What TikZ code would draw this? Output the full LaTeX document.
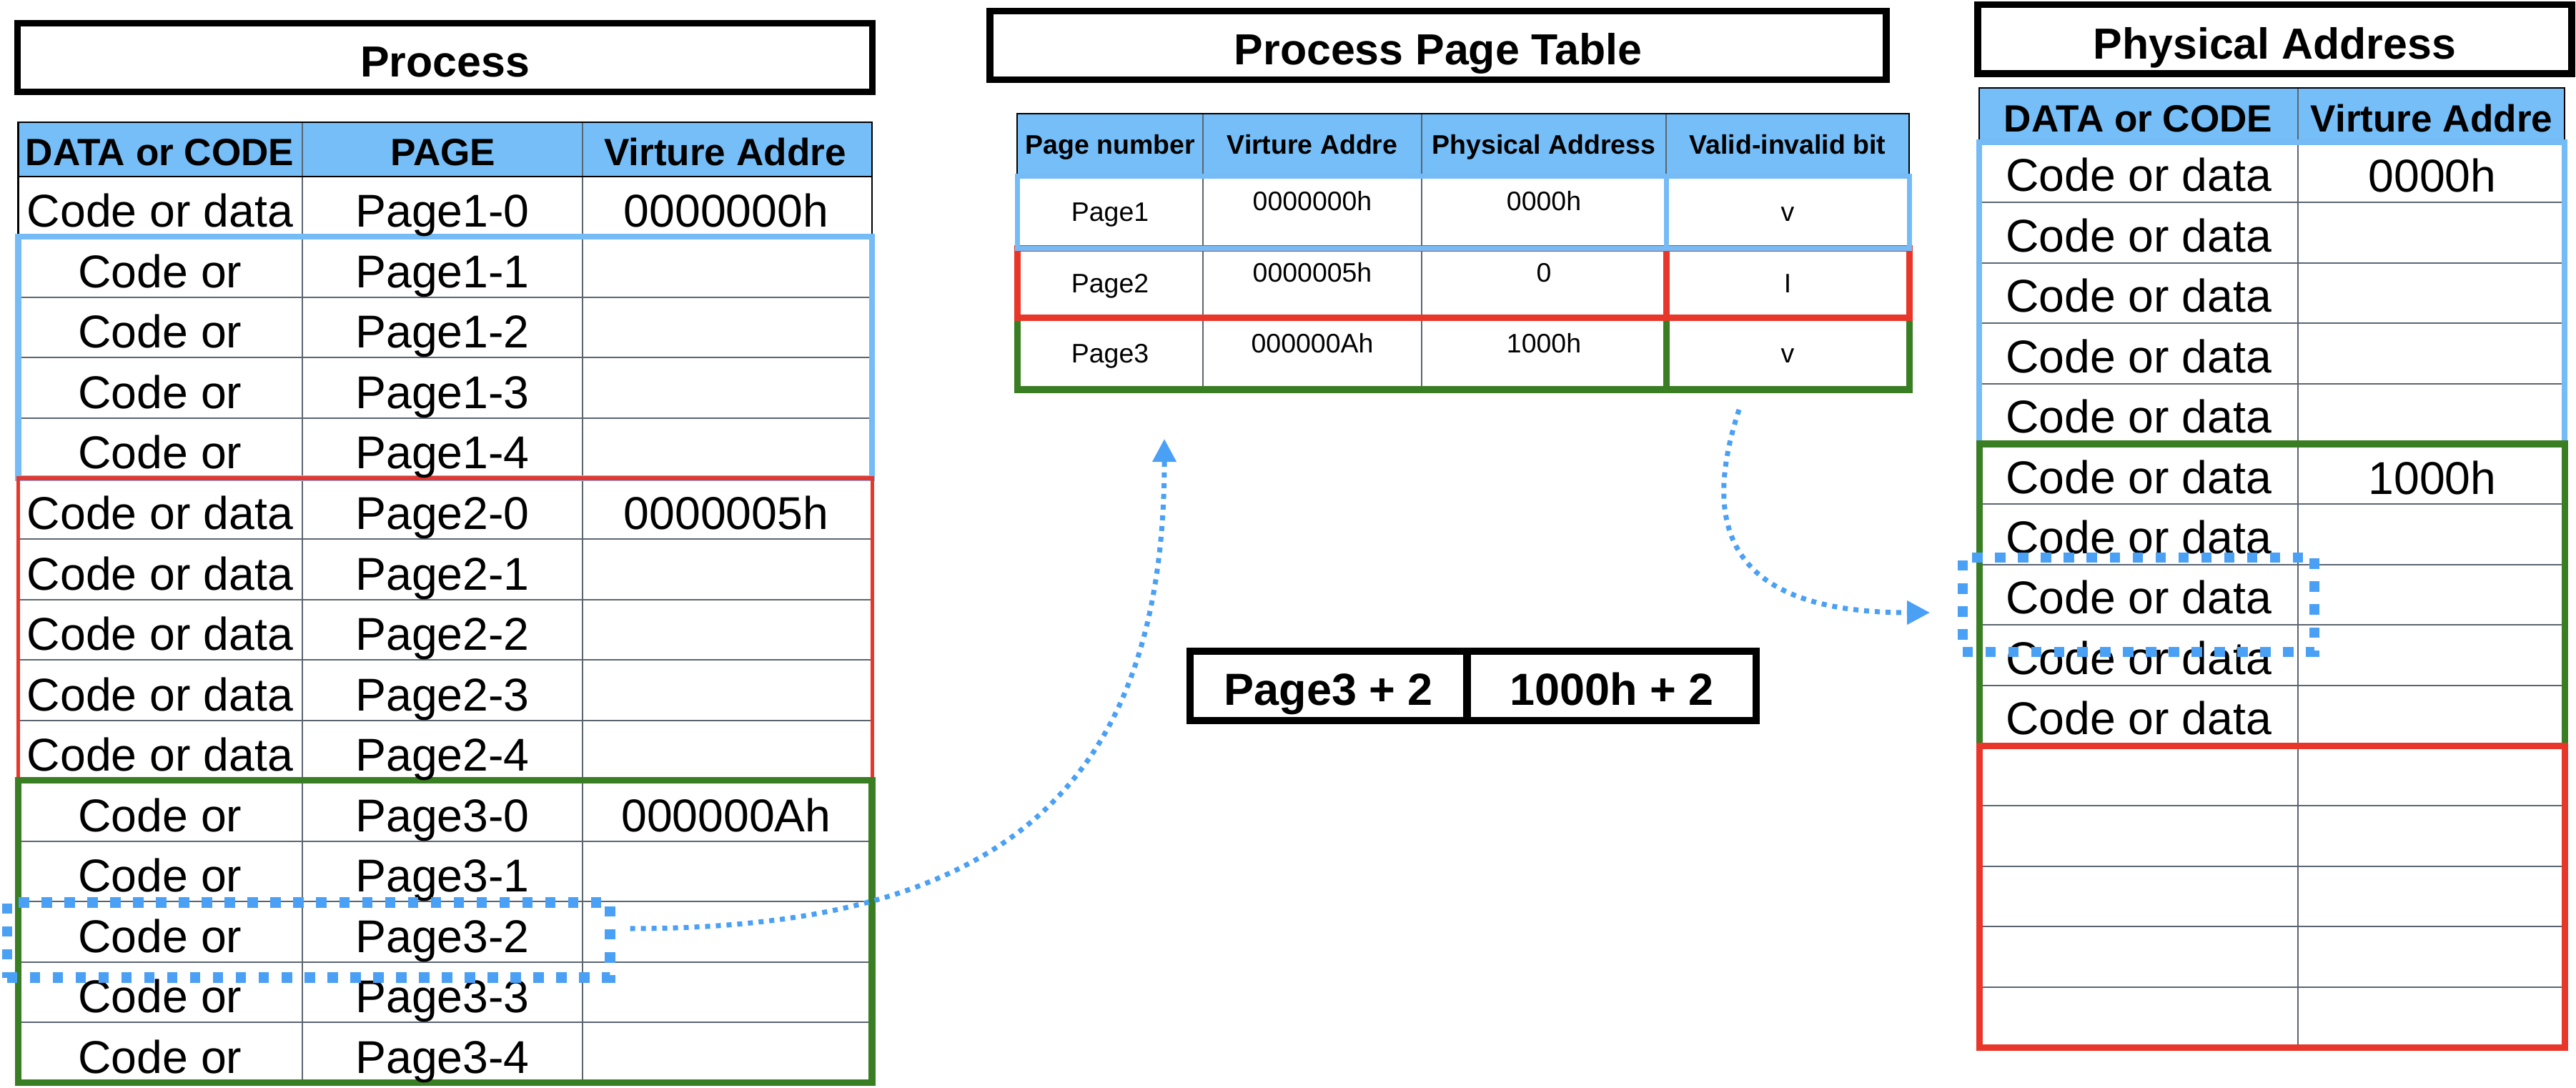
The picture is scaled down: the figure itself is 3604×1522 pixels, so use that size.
\documentclass[tikz,border=0pt]{standalone}
\usepackage{fontspec}
\setmainfont{Liberation Sans}
\usetikzlibrary{arrows.meta}
\definecolor{headblue}{HTML}{75BEF8}
\definecolor{pageblue}{HTML}{75BBF6}
\definecolor{pickblue}{HTML}{4AA0F5}
\definecolor{pagered}{HTML}{E8372A}
\definecolor{pagegreen}{HTML}{3A7E23}
\definecolor{rule}{HTML}{5B6570}
\tikzset{
titlebox/.style={draw=black,line width=.095cm,inner sep=0pt,text height=15.6pt,text depth=0pt,font=\bfseries\fontsize{17.3}{20}\selectfont},
sumbox/.style={titlebox,line width=.1cm,font=\bfseries\fontsize{17.9}{20}\selectfont},
cell/.style={anchor=base,inner sep=0pt,font=\fontsize{18.3}{20}\selectfont},
headcell/.style={cell,font=\bfseries\fontsize{15.1}{17}\selectfont},
ptcell/.style={cell,font=\fontsize{10.65}{12}\selectfont},
pthead/.style={cell,font=\bfseries\fontsize{10.65}{12}\selectfont},
rowline/.style={draw=rule,line width=.02cm},
tableedge/.style={draw=black,line width=.023cm},
bluerun/.style={draw=pageblue,line width=.08cm},
redrun/.style={draw=pagered,line width=.05cm},
greenrun/.style={draw=pagegreen,line width=.095cm},
pick/.style={draw=pickblue,line width=.145cm,dash pattern=on .145cm off .175cm,inner sep=0pt},
link/.style={draw=pickblue,line width=.07cm,dash pattern=on .07cm off .08cm,-{Triangle[length=.32cm,width=.32cm]}}}
\begin{document}
\begin{tikzpicture}[x=.01cm,y=-.01cm]
\fill[white] (0,0) rectangle (3604,1522);
\useasboundingbox (0,0) rectangle (3604,1522);
% titles
\node[titlebox,minimum width=11.955cm,minimum height=.955cm] (proctitle) at (622.5,80.5) {Process};
\node[titlebox,minimum width=12.53cm,minimum height=.96cm] (pttitle) at (2012,63.5) {Process Page Table};
\node[titlebox,minimum width=8.305cm,minimum height=.965cm] (phtitle) at (3182.25,54.75) {Physical Address};
% process table
\fill[headblue] (25.5,171) rectangle (1220,247);
\foreach \k in {1,...,14} \draw[rowline] (25.5,{247+84.5*\k}) -- (1220,{247+84.5*\k});
\draw[rowline] (422.5,171) -- (422.5,1514.5) (815,171) -- (815,1514.5);
\draw[tableedge] (25.5,331.5) -- (25.5,171) -- (1220,171) -- (1220,331.5) (25.5,247) -- (1220,247);
\draw[bluerun] (25.5,331.5) rectangle (1220,669);
\draw[redrun] (25.5,669) rectangle (1220,1091.5);
\draw[greenrun] (25.5,1091.5) rectangle (1220,1514.5);
\node[headcell] (vhdata) at (223.5,232) {DATA or CODE};
\node[headcell] (vhpage) at (620,232) {PAGE};
\node[headcell] (vhaddr) at (1014.5,232) {Virture Addre};
\foreach \k/\c/\p [evaluate=\k as \y using 247+84.5*\k+71] in {0/Code or data/Page1-0,1/Code or/Page1-1,2/Code or/Page1-2,3/Code or/Page1-3,4/Code or/Page1-4,5/Code or data/Page2-0,6/Code or data/Page2-1,7/Code or data/Page2-2,8/Code or data/Page2-3,9/Code or data/Page2-4,10/Code or/Page3-0,11/Code or/Page3-1,12/Code or/Page3-2,13/Code or/Page3-3,14/Code or/Page3-4}{
  \node[cell] (pc\k) at (224,\y) {\c};
  \node[cell] (pp\k) at (619,\y) {\p};
}
\node[cell] (pv0) at (1016,318) {0000000h};
\node[cell] (pv5) at (1016,740.5) {0000005h};
\node[cell] (pv10) at (1016,1163) {000000Ah};
% page table
\fill[headblue] (1423,159) rectangle (2671,247);
\draw[rowline] (1683,159) -- (1683,545) (1989,159) -- (1989,545) (2331,159) -- (2331,247);
\draw[tableedge] (1423,247) -- (1423,159) -- (2671,159) -- (2671,247);
\draw[greenrun,line width=.09cm] (1423,445) rectangle (2671,545) (2331,445) -- (2331,545);
\draw[redrun,line width=.09cm] (1423,347.5) rectangle (2671,445) (2331,347.5) -- (2331,445);
\draw[bluerun,line width=.07cm] (1423,247) rectangle (2671,347.5) (2331,247) -- (2331,347.5);
\node[pthead] (hnum) at (1553,216) {Page number};
\node[pthead] (hvirt) at (1836,216) {Virture Addre};
\node[pthead] (hphys) at (2160,216) {Physical Address};
\node[pthead] (hbit) at (2501,216) {Valid-invalid bit};
\foreach \r/\n/\va/\pa/\b/\yb/\yt in {1/Page1/0000000h/0000h/v/310/295,2/Page2/0000005h/0/I/410/395,3/Page3/000000Ah/1000h/v/508/494}{
  \node[ptcell] (pn\r) at (1553,\yb) {\n};
  \node[ptcell] (pv\r) at (1836,\yt) {\va};
  \node[ptcell] (pa\r) at (2160,\yt) {\pa};
  \node[ptcell] (pb\r) at (2501,\yb) {\b};
}
% offset
\node[sumbox,minimum width=3.875cm,minimum height=.97cm] (sumpage) at (1858.75,959.5) {Page3 + 2};
\node[sumbox,minimum width=4.045cm,minimum height=.97cm] (sumaddr) at (2254.75,959.5) {1000h + 2};
% physical memory
\fill[headblue] (2769,123) rectangle (3588,199);
\foreach \k in {1,...,14} \draw[rowline] (2769,{199+84.4*\k}) -- (3588,{199+84.4*\k});
\draw[rowline] (3215,123) -- (3215,1465);
\draw[tableedge] (2769,199) -- (2769,123) -- (3588,123) -- (3588,199);
\draw[bluerun,line width=.085cm] (2769,199) rectangle (3588,621);
\draw[greenrun,line width=.09cm] (2769,621) rectangle (3588,1043);
\draw[redrun,line width=.09cm] (2769,1043) rectangle (3588,1465);
\node[headcell] (mhdata) at (2991.5,185) {DATA or CODE};
\node[headcell] (mhaddr) at (3402,185) {Virture Addre};
\foreach \k in {0,...,9} \node[cell] (mc\k) at (2992,{199+84.4*\k+69}) {Code or data};
\node[cell] (ma0) at (3403,269) {0000h};
\node[cell] (ma5) at (3403,691) {1000h};
% selections and links
\node[pick,minimum width=8.43cm,minimum height=1.05cm] (vsel) at (431.5,1315) {};
\node[pick,minimum width=4.92cm,minimum height=1.32cm] (msel) at (2992,846) {};
\coordinate (from1) at ([xshift=.21cm,yshift=.16cm]vsel.east);
\coordinate (to1) at (1629,614);
\coordinate (from2) at (2433,573);
\coordinate (to2) at ([xshift=-.385cm,yshift=-.11cm]msel.west);
\draw[link] (from1) .. controls +(499,0) and +(0,506) .. (to1);
\draw[link] (from2) .. controls +(-48,147) and +(-300,0) .. (to2);
\end{tikzpicture}
\end{document}
